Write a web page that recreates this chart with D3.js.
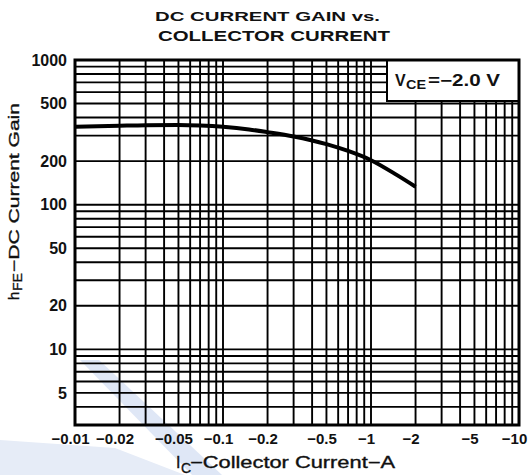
<!DOCTYPE html>
<html>
<head>
<meta charset="utf-8">
<script src="https://cdn.jsdelivr.net/npm/d3@7"></script>
<style>
  body { margin: 0; background: #fff; }
  text { font-family: "Liberation Sans", Arial, sans-serif; fill: #111; }
  .axtitle { stroke: #111; stroke-width: 0.35; }
</style>
</head>
<body>
<div id="chart"></div>
<script>
// ---- data ----
const collectorCurrent = [0.01, 0.02, 0.03, 0.05, 0.07, 0.1, 0.15, 0.2, 0.3, 0.5, 0.7, 1, 1.5, 2];
const currentGain      = [345, 351, 354, 355, 352, 345, 331, 317, 296, 262, 235, 203, 160, 133];
const xTickLabels = [0.01, 0.02, 0.05, 0.1, 0.2, 0.5, 1, 2, 5, 10];
const yTickLabels = [5, 10, 20, 50, 100, 200, 500, 1000];

const SVG_W = 530, SVG_H = 475;
const PLOT = {left: 75, right: 519, top: 60, bottom: 425};

const svg = d3.select("#chart").append("svg")
  .attr("width", SVG_W).attr("height", SVG_H);

const x = d3.scaleLog().domain([0.01, 10]).range([PLOT.left, PLOT.right]);
const y = d3.scaleLog().domain([3, 1000]).range([PLOT.bottom, PLOT.top]);

// scan watermark (pale blue bands)
svg.append("polygon").attr("points", "80,360 99,360 222,475 192,475").attr("fill", "#dfe7f6");
svg.append("polygon").attr("points", "0,440 115,448 185,475 0,475").attr("fill", "#e6ecf7");

// log grid lines
function logGrid(lo, hi) {
  let vals = [];
  for (let d = lo; d < hi; d *= 10)
    for (let k = 1; k < 10; k++) vals.push(+(k * d).toPrecision(3));
  vals.push(hi);
  return vals;
}
const xGrid = logGrid(0.01, 10);
const yGrid = logGrid(1, 1000).filter(v => v >= 3);

const grid = svg.append("g");
grid.selectAll("line.v").data(xGrid).enter().append("line")
  .attr("x1", d => x(d)).attr("x2", d => x(d))
  .attr("y1", PLOT.top).attr("y2", PLOT.bottom)
  .attr("stroke", "#000").attr("stroke-width", 1.9);
grid.selectAll("line.h").data(yGrid).enter().append("line")
  .attr("y1", d => y(d)).attr("y2", d => y(d))
  .attr("x1", PLOT.left).attr("x2", PLOT.right)
  .attr("stroke", "#000").attr("stroke-width", 1.9);

// curve
const line = d3.line()
  .x((d, i) => x(collectorCurrent[i]))
  .y(d => y(d))
  .curve(d3.curveMonotoneX);
svg.append("path").datum(currentGain)
  .attr("d", line)
  .attr("fill", "none").attr("stroke", "#000").attr("stroke-width", 4);

// legend box
svg.append("rect").attr("x", 387).attr("y", PLOT.top).attr("width", PLOT.right - 387).attr("height", 41)
  .attr("fill", "#fff").attr("stroke", "#000").attr("stroke-width", 2);
svg.append("text").attr("x", 395).attr("y", 86)
  .style("font-size", "16px").style("font-weight", "bold").text("V");
svg.append("text").attr("x", 406).attr("y", 89)
  .attr("textLength", 20).attr("lengthAdjust", "spacingAndGlyphs")
  .style("font-size", "13px").style("font-weight", "bold").text("CE");
svg.append("text").attr("x", 428).attr("y", 86)
  .attr("textLength", 72).attr("lengthAdjust", "spacingAndGlyphs")
  .style("font-size", "16px").style("font-weight", "bold").text("=−2.0 V");

// frame
svg.append("rect").attr("x", PLOT.left).attr("y", PLOT.top)
  .attr("width", PLOT.right - PLOT.left).attr("height", PLOT.bottom - PLOT.top)
  .attr("fill", "none").attr("stroke", "#000").attr("stroke-width", 3);

// axes
const xAxis = svg.append("g").attr("transform", `translate(0, ${PLOT.bottom})`)
  .call(d3.axisBottom(x).tickValues(xTickLabels).tickSize(0).tickPadding(8)
    .tickFormat(d => "−" + d));
xAxis.select(".domain").remove();
xAxis.selectAll("text").attr("dx", -5)
  .style("font-size", "15px").style("font-weight", "bold").style("font-family", "Liberation Sans, Arial, sans-serif");

const yAxis = svg.append("g").attr("transform", `translate(${PLOT.left}, 0)`)
  .call(d3.axisLeft(y).tickValues(yTickLabels).tickSize(0).tickPadding(8)
    .tickFormat(d3.format("d")));
yAxis.select(".domain").remove();
yAxis.selectAll("text")
  .style("font-size", "16px").style("font-weight", "bold").style("font-family", "Liberation Sans, Arial, sans-serif");

// title
svg.append("text").attr("x", 155).attr("y", 21)
  .attr("textLength", 225).attr("lengthAdjust", "spacingAndGlyphs")
  .style("font-size", "13px").style("font-weight", "bold")
  .text("DC CURRENT GAIN vs.");
svg.append("text").attr("x", 158).attr("y", 41)
  .attr("textLength", 232).attr("lengthAdjust", "spacingAndGlyphs")
  .style("font-size", "14px").style("font-weight", "bold")
  .text("COLLECTOR CURRENT");

// x axis title
svg.append("text").attr("class", "axtitle").attr("x", 176).attr("y", 468).style("font-size", "16px").text("I");
svg.append("text").attr("class", "axtitle").attr("x", 181).attr("y", 473).style("font-size", "14px").text("C");
svg.append("text").attr("class", "axtitle").attr("x", 190).attr("y", 468)
  .attr("textLength", 205).attr("lengthAdjust", "spacingAndGlyphs")
  .style("font-size", "16px").text("−Collector Current−A");

// y axis title
const yt = svg.append("g").attr("transform", "translate(19, 0) rotate(-90)");
yt.append("text").attr("class", "axtitle").attr("x", -300).attr("y", 0).style("font-size", "15px").text("h");
yt.append("text").attr("class", "axtitle").attr("x", -291).attr("y", 3)
  .attr("textLength", 18).attr("lengthAdjust", "spacingAndGlyphs")
  .style("font-size", "13px").text("FE");
yt.append("text").attr("class", "axtitle").attr("x", -272).attr("y", 0)
  .attr("textLength", 169).attr("lengthAdjust", "spacingAndGlyphs")
  .style("font-size", "15px").text("−DC Current Gain");
</script>
</body>
</html>
